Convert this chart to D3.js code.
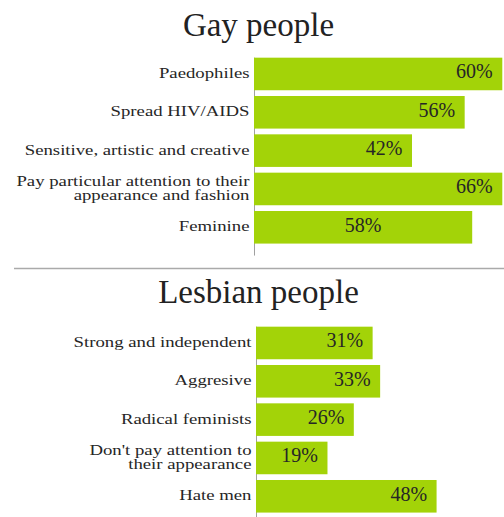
<!DOCTYPE html>
<html>
<head>
<meta charset="utf-8">
<script src="https://cdn.jsdelivr.net/npm/d3@7"></script>
<style>
  html, body { margin: 0; padding: 0; background: #fff; }
  svg { display: block; }
</style>
</head>
<body>
<svg id="chart" width="504" height="517"></svg>
<script>
// ---- Data ----
const gayTitle = "Gay people";
const gayCategories = [
  ["Paedophiles"],
  ["Spread HIV/AIDS"],
  ["Sensitive, artistic and creative"],
  ["Pay particular attention to their", "appearance and fashion"],
  ["Feminine"]
];
// bar lengths as drawn (the first bar is drawn about as long as the 66% one)
const gayValues = [66, 56, 42, 66, 58];
const gayValueLabels = ["60%", "56%", "42%", "66%", "58%"];
const gayLabelAlign = ["end", "end", "end", "end", "middle"];

const lesTitle = "Lesbian people";
const lesCategories = [
  ["Strong and independent"],
  ["Aggresive"],
  ["Radical feminists"],
  ["Don't pay attention to", "their appearance"],
  ["Hate men"]
];
const lesValues = [31, 33, 26, 19, 48];
const lesValueLabels = ["31%", "33%", "26%", "19%", "48%"];
const lesLabelAlign = ["end", "end", "end", "end", "end"];

// ---- Layout ----
const W = 504, H = 517;
const svg = d3.select("#chart");
const green = "#a3d308";
const textColor = "#262626";
const pxPerPct = 3.762;
const serif = "'Liberation Serif', 'Times New Roman', serif";

function panel(cfg) {
  const g = svg.append("g");
  const x = d3.scaleLinear().domain([0, 100]).range([cfg.x0, cfg.x0 + 100 * pxPerPct]);
  const idx = cfg.values.map((d, i) => i);
  const y = d3.scaleBand().domain(idx).range([cfg.bandTop, cfg.bandTop + 5 * 38.33])
    .paddingInner(0.15).paddingOuter(0.075);

  g.append("text")
    .attr("x", 258.5).attr("y", cfg.titleY)
    .attr("text-anchor", "middle")
    .style("font-family", serif)
    .style("font-size", "33px")
    .style("fill", "#222")
    .text(cfg.title);

  // axis line
  g.append("line")
    .attr("x1", cfg.x0 + 0.5).attr("x2", cfg.x0 + 0.5)
    .attr("y1", y(0)).attr("y2", y(idx.length - 1) + y.bandwidth() + 12)
    .style("stroke", "#a0a0a0").style("stroke-width", 1);

  g.selectAll("rect.bar").data(cfg.values).join("rect")
    .attr("class", "bar")
    .attr("x", x(0))
    .attr("y", (d, i) => y(i))
    .attr("width", d => x(d) - x(0))
    .attr("height", y.bandwidth())
    .style("fill", green);

  // category labels (wide serif look: horizontally stretched)
  const catG = g.append("g")
    .attr("transform", `translate(${cfg.x0 - 4.5},0) scale(1.21,1)`);
  const cat = catG.selectAll("text.cat").data(cfg.categories).join("text")
    .attr("class", "cat")
    .attr("text-anchor", "end")
    .style("font-family", serif)
    .style("font-size", "15.5px")
    .style("fill", textColor);
  cat.each(function (lines, i) {
    const cy = y(i) + y.bandwidth() / 2;
    const lh = 14;
    const first = cy + 4 - (lines.length - 1) * lh / 2;
    d3.select(this).selectAll("tspan").data(lines).join("tspan")
      .attr("x", 0)
      .attr("y", (l, j) => first + j * lh)
      .text(l => l);
  });

  // value labels
  g.selectAll("text.val").data(cfg.values).join("text")
    .attr("class", "val")
    .attr("text-anchor", (d, i) => cfg.align[i])
    .attr("x", (d, i) => cfg.align[i] === "middle" ? (x(0) + x(d)) / 2 : x(d) - 9.5)
    .attr("y", (d, i) => y(i) + y.bandwidth() / 2 + 4.5)
    .style("font-family", serif)
    .style("font-size", "20px")
    .style("fill", textColor)
    .text((d, i) => cfg.valueLabels[i]);
}

panel({
  title: gayTitle, categories: gayCategories, values: gayValues,
  valueLabels: gayValueLabels, align: gayLabelAlign,
  x0: 254, titleY: 36, bandTop: 54.8
});

// separator
svg.append("line")
  .attr("x1", 14).attr("x2", W)
  .attr("y1", 268.5).attr("y2", 268.5)
  .style("stroke", "#aaaaaa").style("stroke-width", 1.3);

panel({
  title: lesTitle, categories: lesCategories, values: lesValues,
  valueLabels: lesValueLabels, align: lesLabelAlign,
  x0: 256, titleY: 302.5, bandTop: 323.8
});
</script>
</body>
</html>
